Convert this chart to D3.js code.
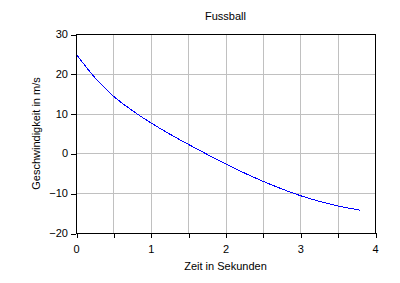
<!DOCTYPE html>
<html><head><meta charset="utf-8">
<script src="https://cdn.jsdelivr.net/npm/d3@7"></script>
<style>
html,body{margin:0;padding:0;background:#fff;}
svg{display:block;font-family:"Liberation Sans",Arial,sans-serif;}
</style></head>
<body>
<svg id="c" width="400" height="283"></svg>
<script>
const title = "Fussball";
const xLabel = "Zeit in Sekunden";
const yLabel = "Geschwindigkeit in m/s";
const time = [0, 0.25, 0.5, 0.75, 1.0, 1.25, 1.5, 1.75, 2.0, 2.25, 2.5, 2.75, 3.0, 3.25, 3.5, 3.75, 3.8];
const speed = [25, 19.1, 14.4, 10.8, 7.7, 4.9, 2.3, -0.2, -2.6, -4.9, -7.0, -8.9, -10.6, -12.0, -13.2, -14.1, -14.3];
const xTicks = [0, 0.5, 1, 1.5, 2, 2.5, 3, 3.5, 4];
const yTicks = [-20, -10, 0, 10, 20, 30];

const svg = d3.select("#c");
const L = 76, R = 375, T = 34, B = 233;
const x = d3.scaleLinear().domain([0, 4]).range([L, R]);
const y = d3.scaleLinear().domain([-20, 30]).range([B, T]);
const px = v => Math.round(x(v)) + 0.5;
const py = v => Math.round(y(v)) + 0.5;

// grid
const g = svg.append("g").attr("shape-rendering", "crispEdges");
g.selectAll(".vg").data(xTicks.filter(d => d > 0 && d < 4)).join("line")
  .attr("x1", d => px(d)).attr("x2", d => px(d)).attr("y1", T).attr("y2", B)
  .attr("stroke", "#c0c0c0");
g.selectAll(".hg").data(yTicks.filter(d => d > -20 && d < 30)).join("line")
  .attr("x1", L).attr("x2", R).attr("y1", d => py(d)).attr("y2", d => py(d))
  .attr("stroke", "#c0c0c0");

// curve
const line = d3.line().x((d, i) => x(time[i])).y(d => y(d)).curve(d3.curveMonotoneX);
svg.append("path").datum(speed).attr("d", line)
  .attr("fill", "none").attr("stroke", "#0000ff").attr("stroke-width", 1)
  .attr("shape-rendering", "crispEdges");

// frame
svg.append("rect").attr("x", px(0)).attr("y", py(30)).attr("width", px(4) - px(0)).attr("height", py(-20) - py(30))
  .attr("fill", "none").attr("stroke", "#000").attr("shape-rendering", "crispEdges");

// axes
const ax = svg.append("g").attr("transform", `translate(0,${py(-20) - 0.5})`)
  .call(d3.axisBottom(x).tickValues(xTicks).tickSize(5).tickPadding(7)
    .tickFormat(d => Number.isInteger(d) ? d3.format("d")(d) : ""));
const ay = svg.append("g").attr("transform", `translate(${px(0) - 0.5},0)`)
  .call(d3.axisLeft(y).tickValues(yTicks).tickSize(5).tickPadding(3).tickFormat(d3.format("d")));
[ax, ay].forEach(a => {
  a.select(".domain").remove();
  a.attr("shape-rendering", "crispEdges");
  a.selectAll("text").attr("font-size", 11).attr("fill", "#000").attr("font-family", "'Liberation Sans',Arial,sans-serif");
  a.selectAll("line").attr("stroke", "#000");
});
ax.selectAll(".tick line").attr("transform", "translate(0.5,0)");
ay.selectAll(".tick line").attr("transform", "translate(0,0.5)");

svg.append("text").attr("x", (L + R) / 2).attr("y", 20).attr("text-anchor", "middle")
  .attr("font-size", 11).text(title);
svg.append("text").attr("x", (L + R) / 2).attr("y", 270).attr("text-anchor", "middle")
  .attr("font-size", 11).text(xLabel);
svg.append("text").attr("transform", `translate(40,${(T + B) / 2}) rotate(-90)`).attr("text-anchor", "middle")
  .attr("font-size", 11).text(yLabel);
</script>
</body></html>
